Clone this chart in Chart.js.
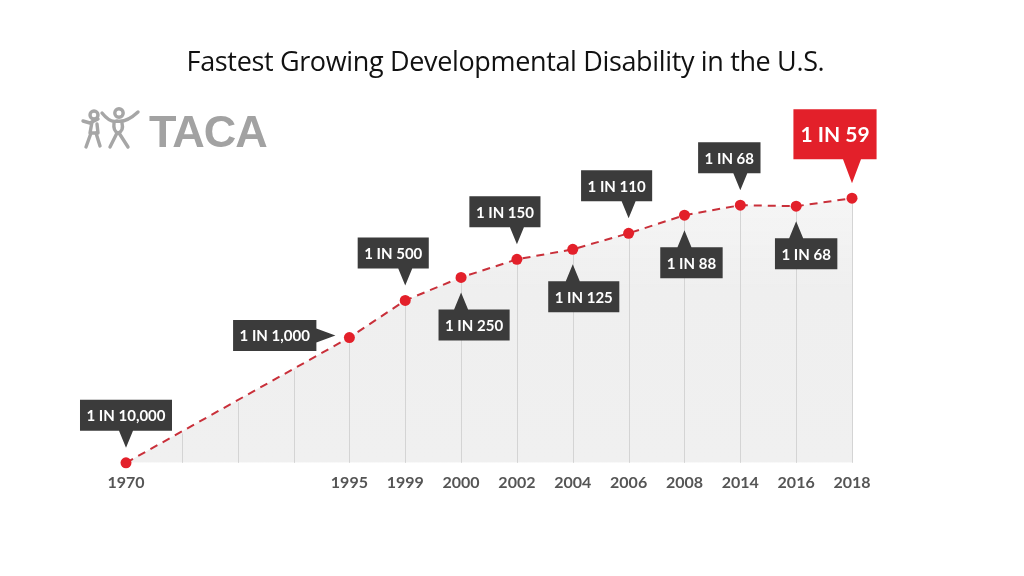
<!DOCTYPE html>
<html>
<head>
<meta charset="utf-8">
<script src="https://cdn.jsdelivr.net/npm/chart.js@4/dist/chart.umd.min.js"></script>
<style>
  html, body { margin: 0; padding: 0; background: #fff; }
  #wrap { position: relative; width: 1024px; height: 576px; overflow: hidden; }
  #chart { position: absolute; left: 0; top: 0; }
  #title {
    position: absolute; left: 0; width: 1011px; top: 42px;
    text-align: center; font-family: "Open Sans", sans-serif; font-size: 27px;
    color: #111; white-space: nowrap; letter-spacing: -0.35px;
  }
  #logo { position: absolute; left: 80px; top: 106px; height: 46px; }
  #logo svg { position: absolute; left: 0; top: 1px; }
  #logo span {
    position: absolute; left: 69px; top: 0px;
    font-family: "Liberation Sans", Arial, sans-serif; font-weight: bold;
    font-size: 45px; color: #a2a2a2; letter-spacing: -1px;
  }
</style>
</head>
<body>
<div id="wrap">
  <canvas id="chart" width="1024" height="576"></canvas>
  <div id="title">Fastest Growing Developmental Disability in the U.S.</div>
  <div id="logo">
    <svg width="64" height="44" viewBox="0 0 64 44">
      <g fill="none" stroke="#a6a6a6" stroke-width="3.4" stroke-linecap="round" stroke-linejoin="round">
        <circle cx="14" cy="8" r="4"/>
        <path d="M3 14 L10 16 L18 12"/>
        <path d="M12 15 L10 26 L18 26 L17 17"/>
        <path d="M11 26 L6 40 M16 26 L20 39"/>
        <circle cx="39" cy="6" r="4.2"/>
        <path d="M22 6 Q30 16 37 14 Q46 16 58 5"/>
        <path d="M34 16 Q33 24 38 26 Q44 24 42 16"/>
        <path d="M37 26 L30 40 M39 26 L48 40"/>
      </g>
    </svg>
    <span>TACA</span>
  </div>
</div>
<script>
const years = ['1970', '', '', '', '1995', '1999', '2000', '2002', '2004', '2006', '2008', '2014', '2016', '2018'];
// height of each point above the baseline (blank years have no point)
const rise = [0, null, null, null, 125, 162, 185, 203, 213, 229, 247, 257, 256, 264];
const rates = ['1 IN 10,000', null, null, null, '1 IN 1,000', '1 IN 500', '1 IN 250', '1 IN 150',
               '1 IN 125', '1 IN 110', '1 IN 88', '1 IN 68', '1 IN 68', '1 IN 59'];

// where each callout sits relative to its point
const calloutSide = ['up', null, null, null, 'left', 'up', 'down', 'up', 'down', 'up', 'down', 'up', 'down', 'up'];
const calloutShift = [0, 0, 0, 0, 0, -12, 13, -12, 11, -12, 7, -11, 10, -17];

function lineYAt(meta, i) {
    // pixel y of the dashed line at category i, interpolated over the gaps
    const pts = meta.data;
    if (rise[i] !== null) return pts[i].y;
    let a = i, b = i;
    while (a > 0 && rise[a] === null) a--;
    while (b < rise.length - 1 && rise[b] === null) b++;
    const t = (pts[i].x - pts[a].x) / (pts[b].x - pts[a].x);
    return pts[a].y + (pts[b].y - pts[a].y) * t;
}

function drawStems(chart) {
    const ctx = chart.ctx;
    const meta = chart.getDatasetMeta(0);
    const bottom = chart.chartArea.bottom;
    const xs = chart.scales.x;
    ctx.save();
    ctx.strokeStyle = '#d4d4d4';
    ctx.lineWidth = 1;
    for (let i = 0; i < years.length; i++) {
        const x = Math.round(xs.getPixelForValue(i)) + 0.5;
        const top = lineYAt(meta, i) + (rise[i] !== null ? 5 : 2);
        ctx.beginPath();
        ctx.moveTo(x, top);
        ctx.lineTo(x, bottom);
        ctx.stroke();
    }
    ctx.restore();
}

function drawCallout(ctx, px, py, text, side, shift, red) {
    const fontSize = red ? 21 : 15;
    ctx.font = 'bold ' + fontSize + 'px Lato, "Open Sans", sans-serif';
    const tw = ctx.measureText(text).width;
    const w = tw + (red ? 14 : 13);
    const h = red ? 50 : 31;
    const gap = 15;
    const ptr = red ? 24 : 17;
    const half = red ? 9 : 7;
    let bx, by;
    ctx.fillStyle = red ? '#e3202a' : '#3b3b3b';
    ctx.beginPath();
    if (side === 'up') {
        const tip = py - gap;
        bx = px + shift - w / 2;
        by = tip - ptr - h;
        ctx.rect(bx, by, w, h);
        ctx.moveTo(px - half, by + h);
        ctx.lineTo(px + half, by + h);
        ctx.lineTo(px, tip);
    } else if (side === 'down') {
        const tip = py + gap;
        bx = px + shift - w / 2;
        by = tip + ptr;
        ctx.rect(bx, by, w, h);
        ctx.moveTo(px - half, by);
        ctx.lineTo(px + half, by);
        ctx.lineTo(px, tip);
    } else {
        const tip = px - 14;
        bx = tip - 19 - w;
        by = py - 2 - h / 2;
        ctx.rect(bx, by, w, h);
        ctx.moveTo(bx + w, py - 2 - half);
        ctx.lineTo(bx + w, py - 2 + half);
        ctx.lineTo(tip, py - 2);
    }
    ctx.fill();
    ctx.fillStyle = '#ffffff';
    ctx.textAlign = 'center';
    ctx.textBaseline = 'middle';
    ctx.fillText(text, bx + w / 2, by + h / 2 + 1);
}

const calloutPlugin = {
    id: 'callouts',
    afterDatasetsDraw(chart) {
        const ctx = chart.ctx;
        const meta = chart.getDatasetMeta(0);
        ctx.save();
        rates.forEach((txt, i) => {
            if (!txt) return;
            const p = meta.data[i];
            drawCallout(ctx, p.x, p.y, txt, calloutSide[i], calloutShift[i], i === rates.length - 1);
        });
        ctx.restore();
    }
};

// stems sit on top of the grey fill but under the dashed line
const stemPlugin = {
    id: 'stems',
    beforeDatasetDraw(chart) {
        drawStems(chart);
    }
};

const canvas = document.getElementById('chart');
new Chart(canvas, {
    type: 'line',
    data: {
        labels: years,
        datasets: [{
            data: rise,
            spanGaps: true,
            clip: false,
            borderColor: '#c9303a',
            borderWidth: 2,
            borderDash: [8, 6],
            tension: 0,
            fill: 'origin',
            backgroundColor: function(context) {
                const area = context.chart.chartArea;
                if (!area) return '#f0f0f0';
                const g = context.chart.ctx.createLinearGradient(0, area.top + 80, 0, area.bottom);
                g.addColorStop(0, 'rgba(240,240,240,0.6)');
                g.addColorStop(0.35, 'rgba(239,239,239,1)');
                g.addColorStop(1, 'rgba(240,240,240,1)');
                return g;
            },
            pointRadius: 5.5,
            pointBackgroundColor: '#e3202a',
            pointBorderWidth: 0,
            pointHoverRadius: 5.5
        }]
    },
    options: {
        responsive: false,
        animation: false,
        events: [],
        layout: { padding: { left: 126, right: 172, top: 112, bottom: 74 } },
        plugins: {
            legend: { display: false },
            tooltip: { enabled: false },
            filler: { drawTime: 'beforeDatasetDraw' }
        },
        scales: {
            x: {
                offset: false,
                grid: { display: false, drawTicks: false, tickLength: 0 },
                border: { display: false },
                ticks: {
                    autoSkip: false,
                    maxRotation: 0,
                    padding: 10,
                    color: '#555555',
                    font: { family: 'Lato, "Open Sans", sans-serif', size: 16, weight: 'bold' }
                }
            },
            y: {
                display: false,
                min: 0,
                max: 350
            }
        }
    },
    plugins: [stemPlugin, calloutPlugin]
});
</script>
</body>
</html>
